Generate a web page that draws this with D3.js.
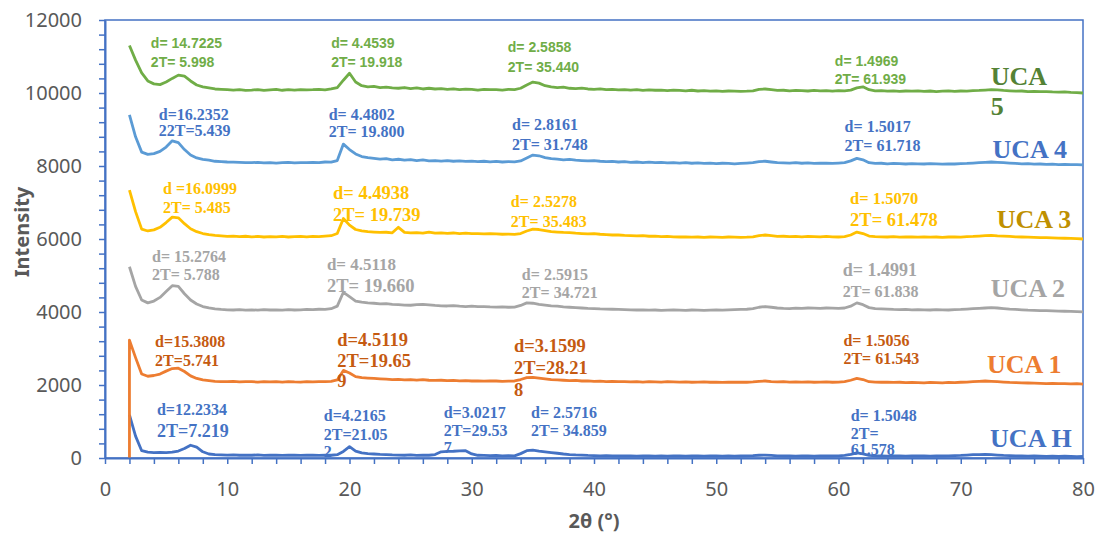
<html>
<head>
<meta charset="utf-8">
<title>XRD patterns</title>
<script src="https://cdn.jsdelivr.net/npm/d3@7"></script>
<style>
    body { margin: 0; background: #fff; }
    .tick text { font-family: "Noto Sans", sans-serif; font-size: 20px; fill: #595959; }
    .ann { font-family: "Liberation Serif", "Times New Roman", serif; font-weight: bold; }
    .ann.sans { font-family: "Liberation Sans", Arial, sans-serif; }
    .title { font-family: "Noto Sans", sans-serif; font-size: 20px; font-weight: bold; fill: #595959; }
</style>
</head>
<body>
<svg id="chart" width="1099" height="539"></svg>
<script>
// 2theta grid (degrees)
const twoTheta = [
    2, 2.5, 3, 3.5, 4, 4.5, 5, 5.5, 6, 6.5,
    7, 7.5, 8, 8.5, 9, 9.5, 10, 10.5, 11, 11.5,
    12, 12.5, 13, 13.5, 14, 14.5, 15, 15.5, 16, 16.5,
    17, 17.5, 18, 18.5, 19, 19.5, 20, 20.5, 21, 21.5,
    22, 22.5, 23, 23.5, 24, 24.5, 25, 25.5, 26, 26.5,
    27, 27.5, 28, 28.5, 29, 29.5, 30, 30.5, 31, 31.5,
    32, 32.5, 33, 33.5, 34, 34.5, 35, 35.5, 36, 36.5,
    37, 37.5, 38, 38.5, 39, 39.5, 40, 40.5, 41, 41.5,
    42, 42.5, 43, 43.5, 44, 44.5, 45, 45.5, 46, 46.5,
    47, 47.5, 48, 48.5, 49, 49.5, 50, 50.5, 51, 51.5,
    52, 52.5, 53, 53.5, 54, 54.5, 55, 55.5, 56, 56.5,
    57, 57.5, 58, 58.5, 59, 59.5, 60, 60.5, 61, 61.5,
    62, 62.5, 63, 63.5, 64, 64.5, 65, 65.5, 66, 66.5,
    67, 67.5, 68, 68.5, 69, 69.5, 70, 70.5, 71, 71.5,
    72, 72.5, 73, 73.5, 74, 74.5, 75, 75.5, 76, 76.5,
    77, 77.5, 78, 78.5, 79, 79.5, 80
];

// intensities (offset patterns)
const ucaH = [
    1180, 600, 200, 160, 150, 155, 145, 160, 190, 260,
    350, 300, 170, 110, 90, 85, 80, 85, 75, 80,
    75, 85, 70, 80, 75, 70, 80, 75, 70, 80,
    75, 70, 80, 75, 90, 180, 310, 190, 140, 120,
    110, 100, 95, 85, 80, 75, 85, 70, 80, 75,
    95, 170, 180, 185, 195, 200, 110, 75, 70, 65,
    70, 60, 65, 60, 120, 200, 215, 190, 170, 150,
    130, 110, 95, 85, 80, 70, 65, 60, 65, 55,
    60, 55, 60, 50, 55, 60, 50, 55, 50, 60,
    55, 50, 60, 55, 50, 55, 60, 50, 55, 50,
    55, 60, 65, 75, 80, 70, 60, 55, 60, 50,
    55, 60, 50, 55, 60, 55, 60, 70, 100, 140,
    110, 70, 60, 55, 50, 55, 60, 50, 55, 60,
    55, 50, 60, 55, 60, 65, 70, 80, 90, 95,
    100, 90, 80, 70, 65, 60, 55, 50, 55, 50,
    45, 50, 45, 50, 45, 40, 45
];
const uca1 = [
    3230, 2750, 2300, 2240, 2260, 2300, 2380, 2450, 2460, 2370,
    2250, 2180, 2140, 2120, 2100, 2095, 2090, 2100, 2085, 2095,
    2090, 2080, 2095, 2085, 2090, 2080, 2095, 2085, 2080, 2090,
    2085, 2095, 2090, 2100, 2140, 2400, 2330, 2230, 2200, 2190,
    2180, 2170, 2160, 2150, 2155, 2140, 2150, 2135, 2145, 2130,
    2125, 2130, 2120, 2125, 2115, 2120, 2110, 2115, 2105, 2110,
    2110, 2100, 2105, 2110, 2150, 2200, 2210, 2190, 2170, 2150,
    2140, 2130, 2120, 2125, 2110, 2115, 2100, 2105, 2095, 2100,
    2090, 2095, 2085, 2090, 2080, 2090, 2085, 2080, 2090, 2085,
    2080, 2085, 2075, 2080, 2085, 2075, 2080, 2070, 2080, 2075,
    2080, 2075, 2085, 2100, 2110, 2095, 2085, 2090, 2080, 2085,
    2080, 2085, 2075, 2080, 2085, 2075, 2080, 2090, 2130, 2180,
    2150, 2090, 2080, 2075, 2080, 2070, 2075, 2065, 2070, 2065,
    2060, 2070, 2065, 2060, 2070, 2065, 2075, 2080, 2090, 2100,
    2110, 2100, 2090, 2080, 2070, 2065, 2060, 2055, 2050, 2045,
    2040, 2045, 2035, 2040, 2030, 2035, 2025
];
// UCA 1 scan starts from a zero reading at 2 deg
const uca1Lead = [2, 0];
const uca2 = [
    5240, 4700, 4330, 4250, 4300, 4400, 4560, 4720, 4700, 4500,
    4330, 4220, 4150, 4110, 4085, 4070, 4060, 4055, 4065, 4050,
    4060, 4050, 4065, 4055, 4060, 4050, 4065, 4055, 4060, 4070,
    4065, 4075, 4070, 4090, 4160, 4540, 4420, 4300, 4270, 4250,
    4240, 4220, 4230, 4210, 4200, 4190, 4185, 4200, 4210, 4195,
    4180, 4170, 4165, 4175, 4160, 4150, 4160, 4145, 4150, 4140,
    4135, 4140, 4130, 4135, 4180, 4250, 4240, 4210, 4190, 4170,
    4160, 4140, 4130, 4120, 4110, 4100, 4095, 4085, 4080, 4075,
    4070, 4065, 4060, 4055, 4060, 4050, 4055, 4045, 4050, 4055,
    4050, 4045, 4055, 4050, 4045, 4050, 4055, 4050, 4060, 4065,
    4070, 4075, 4090, 4130, 4150, 4130, 4110, 4100, 4095, 4105,
    4100, 4110, 4105, 4100, 4110, 4105, 4100, 4110, 4160, 4250,
    4200, 4120, 4090, 4085, 4080, 4070, 4065, 4070, 4060, 4065,
    4060, 4055, 4065, 4060, 4055, 4065, 4070, 4080, 4090, 4100,
    4110, 4120, 4110, 4095, 4080, 4070, 4060, 4050, 4045, 4040,
    4035, 4030, 4025, 4020, 4015, 4010, 4005
];
const uca3 = [
    7340, 6750, 6270, 6220, 6250, 6320, 6450, 6600, 6580, 6420,
    6280, 6200, 6150, 6120, 6100, 6085, 6070, 6080, 6065, 6075,
    6060, 6070, 6055, 6065, 6060, 6070, 6055, 6065, 6070, 6060,
    6070, 6065, 6080, 6090, 6150, 6560, 6380, 6260, 6220, 6200,
    6190, 6180, 6185, 6170, 6320, 6180, 6170, 6175, 6160, 6190,
    6160, 6170, 6155, 6165, 6150, 6160, 6145, 6150, 6140, 6150,
    6140, 6130, 6135, 6125, 6150, 6220, 6270, 6260, 6230, 6200,
    6190, 6180, 6175, 6160, 6150, 6140, 6150, 6130, 6120, 6110,
    6110, 6100, 6095, 6085, 6090, 6075, 6080, 6065, 6070, 6060,
    6055, 6060, 6050, 6055, 6045, 6055, 6050, 6045, 6055, 6050,
    6045, 6050, 6060, 6090, 6110, 6090, 6070, 6075, 6065, 6070,
    6060, 6070, 6065, 6060, 6070, 6060, 6055, 6065, 6110, 6190,
    6150, 6080, 6065, 6060, 6055, 6065, 6050, 6060, 6055, 6050,
    6060, 6050, 6055, 6045, 6055, 6060, 6050, 6065, 6070, 6080,
    6090, 6100, 6085, 6080, 6070, 6060, 6055, 6050, 6045, 6040,
    6035, 6030, 6025, 6020, 6015, 6010, 6000
];
const uca4 = [
    9400, 8800, 8380, 8320, 8340, 8400, 8520, 8690, 8640, 8450,
    8300, 8220, 8180, 8160, 8130, 8120, 8110, 8105, 8100, 8095,
    8090, 8100, 8085, 8095, 8080, 8090, 8100, 8085, 8095, 8090,
    8100, 8090, 8110, 8105, 8150, 8600, 8450, 8330, 8260, 8230,
    8210, 8190, 8200, 8170, 8185, 8160, 8175, 8150, 8165, 8140,
    8150, 8135, 8145, 8130, 8140, 8125, 8135, 8120, 8130, 8115,
    8125, 8110, 8120, 8115, 8140, 8220, 8300, 8280, 8230, 8200,
    8190, 8170, 8180, 8160, 8150, 8140, 8150, 8130, 8120, 8125,
    8110, 8120, 8100, 8110, 8095, 8105, 8090, 8100, 8085, 8095,
    8080, 8090, 8075, 8085, 8070, 8080, 8065, 8075, 8070, 8060,
    8070, 8080, 8090, 8120, 8130, 8110, 8090, 8085, 8080, 8090,
    8075, 8085, 8070, 8080, 8075, 8070, 8080, 8090, 8140, 8210,
    8170, 8090, 8070, 8075, 8060, 8070, 8065, 8055, 8065, 8060,
    8055, 8065, 8060, 8050, 8060, 8055, 8065, 8070, 8080, 8090,
    8100, 8110, 8100, 8090, 8080, 8070, 8060, 8065, 8050, 8055,
    8045, 8050, 8040, 8045, 8035, 8040, 8030
];
const uca5 = [
    11300, 10900, 10550, 10330, 10250, 10230, 10300, 10400, 10490, 10460,
    10330, 10220, 10170, 10140, 10110, 10100, 10090, 10080, 10090, 10070,
    10080, 10095, 10070, 10085, 10100, 10075, 10090, 10080, 10095, 10085,
    10090, 10100, 10085, 10110, 10150, 10350, 10540, 10300, 10200, 10170,
    10180, 10150, 10160, 10140, 10130, 10150, 10120, 10140, 10110, 10130,
    10110, 10120, 10100, 10115, 10090, 10105, 10100, 10080, 10100, 10090,
    10090, 10080, 10100, 10090, 10130, 10220, 10300, 10270, 10200, 10170,
    10150, 10160, 10130, 10120, 10135, 10110, 10100, 10115, 10090, 10100,
    10085, 10095, 10080, 10090, 10070, 10085, 10075, 10080, 10065, 10080,
    10070, 10060, 10075, 10055, 10065, 10050, 10060, 10045, 10055, 10050,
    10045, 10050, 10060, 10100, 10110, 10090, 10070, 10075, 10060, 10070,
    10065, 10055, 10070, 10060, 10065, 10050, 10065, 10060, 10080, 10140,
    10170, 10090, 10060, 10065, 10050, 10060, 10045, 10055, 10050, 10060,
    10045, 10055, 10040, 10050, 10060, 10045, 10055, 10050, 10065, 10070,
    10080, 10090, 10085, 10070, 10060, 10050, 10055, 10040, 10045, 10035,
    10040, 10030, 10025, 10030, 10015, 10010, 10000
];

const sampleNames = ["UCA H", "UCA 1", "UCA 2", "UCA 3", "UCA 4", "UCA 5"];
const xTicks = [0, 10, 20, 30, 40, 50, 60, 70, 80];
const yTicks = [0, 2000, 4000, 6000, 8000, 10000, 12000];

// peak notes: [text, 2theta, intensity, font size]
const notesH = [
    ["d=12.2334", 4.25, 1180, 16], ["2T=7.219", 4.25, 575, 18],
    ["d=4.2165", 17.9, 1015, 16], ["2T=21.05", 17.9, 495, 16], ["2", 17.9, 30, 16],
    ["d=3.0217", 27.7, 1095, 16], ["2T=29.53", 27.7, 600, 16], ["7", 27.7, 140, 16],
    ["d= 2.5716", 34.85, 1095, 16], ["2T= 34.859", 34.85, 600, 16],
    ["d= 1.5048", 61.0, 1015, 16], ["2T=", 61.0, 520, 16], ["61.578", 61.0, 80, 16]
];
const notes1 = [
    ["d=15.3808", 4.1, 3040, 16], ["2T=5.741", 4.1, 2520, 16],
    ["d=4.5119", 19.0, 3070, 18.5], ["2T=19.65", 19.0, 2480, 18.5], ["9", 19.0, 1940, 18.5],
    ["d=3.1599", 33.45, 2905, 18.5], ["2T=28.21", 33.45, 2310, 18.5], ["8", 33.45, 1700, 18.5],
    ["d= 1.5056", 60.4, 3070, 16], ["2T= 61.543", 60.4, 2575, 16]
];
const notes2 = [
    ["d= 15.2764", 3.85, 5370, 16], ["2T= 5.788", 3.85, 4880, 16],
    ["d= 4.5118", 18.15, 5150, 17], ["2T= 19.660", 18.15, 4550, 18.5],
    ["d= 2.5915", 34.1, 4880, 16], ["2T= 34.721", 34.1, 4385, 16],
    ["d= 1.4991", 60.35, 4985, 18], ["2T= 61.838", 60.35, 4410, 16]
];
const notes3 = [
    ["d =16.0999", 4.75, 7235, 16], ["2T= 5.485", 4.75, 6710, 16],
    ["d= 4.4938", 18.65, 7095, 18.5], ["2T= 19.739", 18.65, 6495, 18.5],
    ["d= 2.5278", 33.2, 6875, 16], ["2T= 35.483", 33.2, 6330, 16],
    ["d= 1.5070", 60.95, 6960, 16.5], ["2T= 61.478", 60.95, 6355, 18.5]
];
const notes4 = [
    ["d=16.2352", 4.4, 9260, 16], ["22T=5.439", 4.4, 8820, 16],
    ["d= 4.4802", 18.3, 9260, 16], ["2T= 19.800", 18.3, 8795, 16],
    ["d= 2.8161", 33.3, 8985, 16], ["2T= 31.748", 33.3, 8440, 16],
    ["d= 1.5017", 60.5, 8930, 16], ["2T= 61.718", 60.5, 8410, 16]
];
const notes5 = [
    ["d= 14.7225", 3.75, 11230, 14], ["2T= 5.998", 3.75, 10710, 14],
    ["d= 4.4539", 18.5, 11230, 14], ["2T= 19.918", 18.5, 10710, 14],
    ["d= 2.5858", 32.95, 11125, 14], ["2T= 35.440", 32.95, 10575, 14],
    ["d= 1.4969", 59.7, 10740, 14], ["2T= 61.939", 59.7, 10245, 14]
];
// sample name labels at the right: [text, 2theta, intensity]
const sampleLabels = [
    ["UCA H", 72.4, 300], ["UCA 1", 72.15, 2330], ["UCA 2", 72.45, 4410],
    ["UCA 3", 72.95, 6300], ["UCA 4", 72.6, 8220], ["UCA", 72.45, 10220], ["5", 72.45, 9400]
];

const lineColor = { "UCA H": "#4472C4", "UCA 1": "#ED7D31", "UCA 2": "#A5A5A5",
                    "UCA 3": "#FFC000", "UCA 4": "#5B9BD5", "UCA 5": "#70AD47" };
const noteColor = { "UCA H": "#4472C4", "UCA 1": "#C55A11", "UCA 2": "#A5A5A5",
                    "UCA 3": "#FFC000", "UCA 4": "#4472C4", "UCA 5": "#70AD47" };
const labelColor = ["#4472C4", "#ED7D31", "#A5A5A5", "#BF9000", "#4472C4", "#548235", "#548235"];
const axisBlue = "#4472C4";

let svg = d3.select("#chart");
let x = d3.scaleLinear().domain([0, 80]).range([105, 1083]);
let y = d3.scaleLinear().domain([0, 12000]).range([458, 20]);

// frame
svg.append("rect")
    .attr("x", x(0)).attr("y", y(12000))
    .attr("width", x(80) - x(0)).attr("height", y(0) - y(12000))
    .attr("fill", "none").attr("stroke", axisBlue).attr("stroke-width", 1.5);

let seriesData = [ucaH, uca1, uca2, uca3, uca4, uca5];
let line = d3.line().x(d => x(d[0])).y(d => y(d[1]));

seriesData.forEach((vals, i) => {
    let pts = twoTheta.map((t, j) => [t, vals[j]]);
    if (sampleNames[i] == "UCA 1") pts = [uca1Lead].concat(pts);
    svg.append("path")
        .datum(pts)
        .attr("d", line)
        .attr("fill", "none")
        .attr("stroke", lineColor[sampleNames[i]])
        .attr("stroke-width", 2.8)
        .attr("stroke-linejoin", "round");
});

// axes
let yAxis = d3.axisLeft(y)
    .tickValues(d3.range(0, 12001, 400))
    .tickFormat(d => yTicks.includes(d) ? d : "")
    .tickSize(6).tickSizeOuter(0).tickPadding(17);
let gy = svg.append("g").attr("transform", `translate(${x(0)},0)`).call(yAxis);

let xAxis = d3.axisBottom(x)
    .tickValues(d3.range(0, 81, 2))
    .tickFormat(d => xTicks.includes(d) ? d : "")
    .tickSize(6).tickSizeOuter(0).tickPadding(18);
let gx = svg.append("g").attr("transform", `translate(0,${y(0)})`).call(xAxis);

[gx, gy].forEach(g => {
    g.select(".domain").attr("stroke", axisBlue).attr("stroke-width", 2);
    g.selectAll(".tick line").attr("stroke", axisBlue).attr("stroke-width", 1.5);
});

svg.append("text").attr("class", "title")
    .attr("transform", "translate(29,232) rotate(-90)")
    .attr("text-anchor", "middle")
    .text("Intensity");
svg.append("text").attr("class", "title")
    .attr("x", 594).attr("y", 528)
    .attr("text-anchor", "middle")
    .text("2θ (°)");

// peak notes
let allNotes = [notesH, notes1, notes2, notes3, notes4, notes5];
allNotes.forEach((notes, i) => {
    let name = sampleNames[i];
    svg.append("g").selectAll("text")
        .data(notes)
        .join("text")
            .attr("class", name == "UCA 5" ? "ann sans" : "ann")
            .attr("x", d => x(d[1]))
            .attr("y", d => y(d[2]))
            .style("font-size", d => d[3] + "px")
            .attr("fill", noteColor[name])
            .text(d => d[0]);
});

svg.append("g").selectAll("text")
    .data(sampleLabels)
    .join("text")
        .attr("class", "ann")
        .attr("x", d => x(d[1]))
        .attr("y", d => y(d[2]))
        .style("font-size", "26px")
        .attr("fill", (d, i) => labelColor[i])
        .text(d => d[0]);
</script>
</body>
</html>
